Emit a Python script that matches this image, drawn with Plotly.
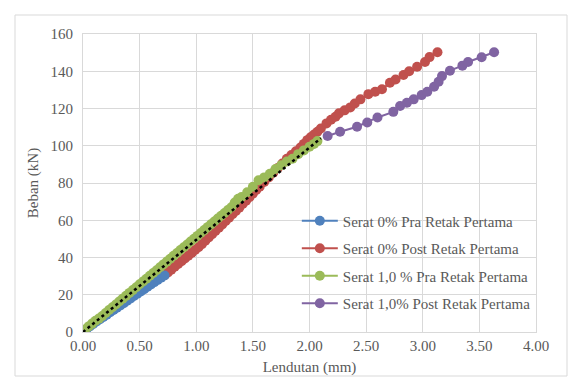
import plotly.graph_objects as go

# ---- data ----
blue_x = [0.00,0.03,0.06,0.09,0.12,0.15,0.18,0.21,0.24,0.27,0.30,0.33,0.36,0.39,0.42,0.45,0.48,0.51,0.54,0.57,0.60,0.63,0.66,0.69,0.72]
blue_y = [0.0,1.5,3.0,4.3,5.6,6.9,8.1,9.3,10.6,11.8,13.0,14.3,15.5,16.8,18.0,19.3,20.5,21.8,23.0,24.3,25.5,26.8,28.0,29.2,30.3]

red_x = [0.72,0.75,0.78,0.81,0.84,0.87,0.90,0.93,0.96,0.99,1.02,1.05,1.08,1.11,1.14,1.17,1.20,1.23,1.26,1.29,1.32,1.35,1.38,1.41,1.44,1.47,1.50,1.53,1.56,1.60,1.64,1.68,1.72,1.76,1.80,1.84,1.88,1.92,1.95,1.98,2.01,2.04,2.07,2.10,2.15,2.19,2.23,2.26,2.31,2.36,2.40,2.45,2.52,2.58,2.64,2.71,2.76,2.83,2.88,2.95,3.02,3.06,3.13]
red_y = [30.5,32.0,33.5,35.0,36.5,38.0,39.5,41.0,42.5,44.0,45.5,47.2,49.0,50.8,52.5,54.3,56.0,57.8,59.6,61.4,63.2,65.0,66.8,68.7,70.5,72.4,74.3,76.2,78.0,80.5,83.0,85.5,88.0,90.5,93.0,95.0,97.0,99.0,101.0,103.0,104.5,106.0,107.5,109.3,112.0,114.0,115.6,117.4,119.0,120.6,122.7,124.9,127.7,129.0,130.3,133.8,135.6,138.0,140.0,142.4,145.0,147.6,150.2]

green_x = [0.00,0.02,0.05,0.08,0.11,0.14,0.17,0.20,0.23,0.26,0.29,0.32,0.35,0.38,0.41,0.44,0.47,0.50,0.53,0.56,0.59,0.62,0.65,0.68,0.71,0.74,0.77,0.80,0.83,0.86,0.89,0.92,0.95,0.98,1.01,1.04,1.07,1.10,1.13,1.16,1.19,1.22,1.25,1.28,1.31,1.34,1.37,1.40,1.45,1.50,1.55,1.60,1.65,1.70,1.75,1.80,1.85,1.90,1.95,2.00,2.04,2.07]
green_y = [0.5,1.5,3.0,4.5,6.0,7.2,8.6,10.2,11.8,13.3,14.8,16.4,17.9,19.4,21.0,22.5,24.0,25.6,27.1,28.6,30.2,31.7,33.2,34.8,36.3,37.8,39.3,40.9,42.4,44.0,45.5,47.0,48.6,50.1,51.6,53.2,54.7,56.3,57.8,59.3,60.9,62.4,63.9,65.5,67.0,69.5,71.5,72.5,75.0,78.0,81.5,83.0,85.0,87.5,89.5,91.5,93.0,95.5,97.5,99.5,101.0,102.5]

purple_x = [2.16,2.27,2.42,2.51,2.60,2.74,2.80,2.86,2.92,2.99,3.04,3.10,3.14,3.17,3.24,3.35,3.40,3.52,3.63]
purple_y = [105.2,107.5,110.2,112.5,115.2,118.2,121.3,123.1,124.9,127.2,129.0,131.7,134.4,137.4,140.3,143.0,145.0,147.5,150.2]

trend_x = [0.0, 2.10]
trend_y = [0.0, 104.0]

names = ["Serat 0% Pra Retak Pertama", "Serat 0% Post Retak Pertama",
         "Serat 1,0 % Pra Retak Pertama", "Serat 1,0% Post Retak Pertama"]
colors = ["#4F81BD", "#C0504D", "#9BBB59", "#8064A2"]

x_ticks = [0, 0.5, 1.0, 1.5, 2.0, 2.5, 3.0, 3.5, 4.0]
x_labels = ["0.00", "0.50", "1.00", "1.50", "2.00", "2.50", "3.00", "3.50", "4.00"]
y_ticks = [0, 20, 40, 60, 80, 100, 120, 140, 160]

FONT = "Liberation Serif, Tinos, Times New Roman, DejaVu Serif, serif"
GRAY = "#595959"

fig = go.Figure()
series = [(blue_x, blue_y), (red_x, red_y), (green_x, green_y), (purple_x, purple_y)]
order = [1, 0, 3, 2]
for i in order:
    xs, ys = series[i]
    fig.add_trace(go.Scatter(
        x=xs, y=ys, mode="lines+markers", name=names[i],
        line=dict(color=colors[i], width=2),
        marker=dict(color=colors[i], size=10),
        legendrank=i + 1, legendgroup="g%d" % i,
    ))

fig.add_trace(go.Scatter(
    x=trend_x, y=trend_y, mode="lines", showlegend=False,
    line=dict(color="black", width=2.5, dash="dot"),
))

fig.update_layout(
    width=569, height=379,
    margin=dict(l=83, r=33, t=34, b=47),
    paper_bgcolor="white", plot_bgcolor="white",
    font=dict(family=FONT, size=15, color=GRAY),
    legend=dict(
        x=0.472, y=0.428, xanchor="left", yanchor="top",
        bgcolor="rgba(0,0,0,0)", font=dict(family=FONT, size=15, color=GRAY),
        tracegroupgap=5, itemwidth=36,
    ),
    xaxis=dict(
        range=[0, 4], tickvals=x_ticks, ticktext=x_labels,
        showgrid=True, gridcolor="#D9D9D9", gridwidth=1,
        zeroline=False, showline=True, linecolor="#D9D9D9", mirror=True,
        ticks="", tickfont=dict(family=FONT, size=15, color=GRAY),
        automargin=False,
        title=dict(text="Lendutan (mm)", font=dict(family=FONT, size=15, color=GRAY), standoff=8),
    ),
    yaxis=dict(
        range=[0, 160], tickvals=y_ticks,
        showgrid=True, gridcolor="#D9D9D9", gridwidth=1,
        zeroline=False, showline=True, linecolor="#D9D9D9", mirror=True,
        ticks="", ticklabelstandoff=6, tickfont=dict(family=FONT, size=15, color=GRAY),
        automargin=False,
        title=dict(text="Beban (kN)", font=dict(family=FONT, size=15, color=GRAY), standoff=8),
    ),
    showlegend=True,
)

fig.add_shape(type="rect", xref="paper", yref="paper",
              x0=-68/453, x1=1 + 31/453, y0=-44/298, y1=1 + 19/298,
              line=dict(color="#D9D9D9", width=1), layer="below")

fig.write_html("out.html")
